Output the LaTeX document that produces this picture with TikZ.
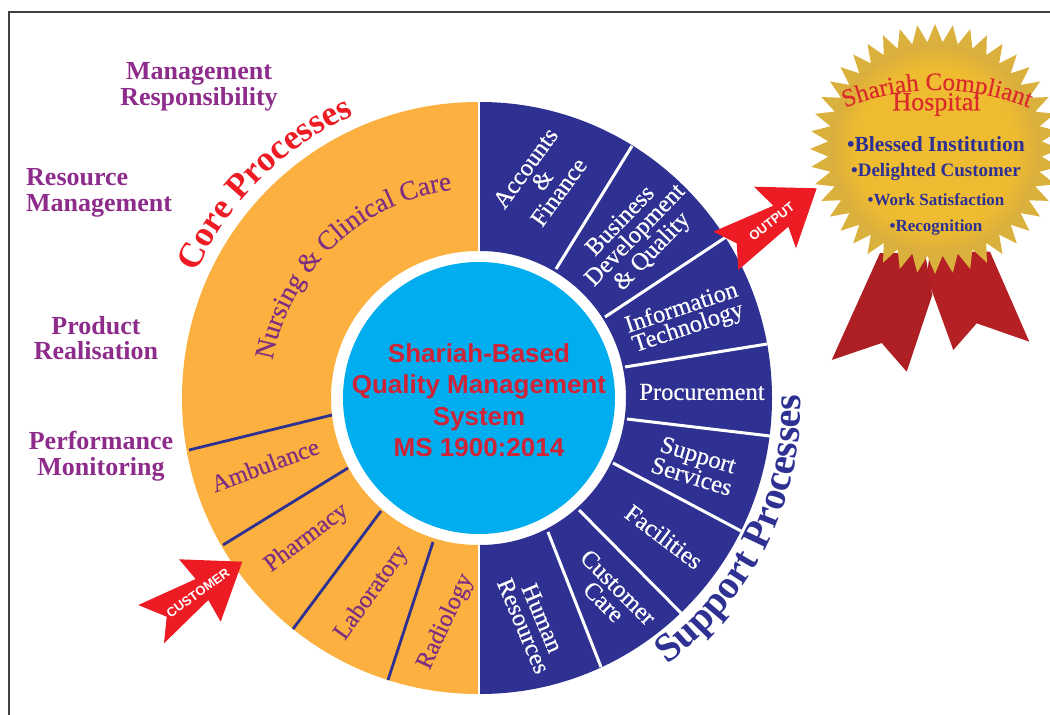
\documentclass[tikz,border=0pt]{standalone}
\usepackage{fontspec}
\setmainfont{Liberation Serif}
\newfontfamily\medserif[FakeBold=0.35]{Liberation Serif}
\newfontfamily\lsans{Liberation Sans}
\usetikzlibrary{decorations.text}
\definecolor{corange}{HTML}{FBB040}
\definecolor{cnavy}{HTML}{2E3192}
\definecolor{ccyan}{HTML}{00AEEF}
\definecolor{cred}{HTML}{ED1C24}
\definecolor{cpurple}{HTML}{8E2C8C}
\definecolor{cplum}{HTML}{7F2F80}
\definecolor{cribbon}{HTML}{B52025}
\definecolor{ccentre}{HTML}{CF2437}
\definecolor{ctitle}{HTML}{DB2A2B}
\definecolor{seala}{HTML}{EFBB30}
\definecolor{sealb}{HTML}{D9AE3E}
\definecolor{sealtip}{HTML}{DBB13D}
\pgfdeclareradialshading{sealshade}{\pgfpoint{0bp}{0bp}}{color(0bp)=(seala); color(19bp)=(seala); color(25bp)=(sealb); color(50bp)=(sealb)}
\newcommand{\corefont}{\fontsize{35.5}{36}\selectfont\bfseries\color{cred}}
\newcommand{\suppfont}{\fontsize{40}{40}\selectfont\bfseries\color{cnavy}}
\newcommand{\nursefont}{\fontsize{27}{27}\medserif\color{cplum}}
\newcommand{\sealfont}{\fontsize{25}{25}\medserif\color{ctitle}}
\tikzset{
  x=1pt,y=1pt,
  purple label/.style={text=cpurple,align=center,inner sep=0pt,font=\fontsize{26}{25.5}\selectfont\bfseries},
  navy label/.style={text=white,align=center,inner sep=0pt,font=\fontsize{24.5}{20.5}\medserif},
  plum label/.style={text=cplum,align=center,inner sep=0pt,font=\fontsize{24.5}{20.5}\medserif},
  divwhite/.style={draw=white,line width=3pt},
  divnavy/.style={draw=cnavy,line width=2.8pt},
  arrowred/.style={fill=cred},
  arrow text/.style={text=white,inner sep=0pt,font=\fontsize{13}{14}\lsans\bfseries},
  seal item/.style={text=cnavy,inner sep=0pt,font=\bfseries},
  curved/.style={decorate,decoration={text along path,text align=center,text={#1}}},
}
\begin{document}
\begin{tikzpicture}
\useasboundingbox (0,-715) rectangle (1050,0);
\clip (0,-715) rectangle (1050,0);
\fill[white] (0,-715) rectangle (1050,0);
\draw[draw=black!75,line width=1.3pt] (9,-715) -- (9,-12) -- (1050,-12);

% wheel
\begin{scope}[shift={(479,-398)}]
  \fill[corange] (-1,296) arc[start angle=90,end angle=270,radius=296pt] -- (-1,-147) arc[start angle=270,end angle=90,radius=147pt] -- cycle;
  \fill[cnavy] (1,296) arc[start angle=90,end angle=-90,x radius=292pt,y radius=296pt] -- (1,-147) arc[start angle=-90,end angle=90,x radius=146pt,y radius=147pt] -- cycle;
  \fill[ccyan] (0,0) circle[radius=136pt];
\end{scope}

% dividers
\draw[divwhite] (556,-269) -- (632,-146);
\draw[divwhite] (605,-317) -- (726,-237);
\draw[divwhite] (625,-367) -- (767,-344);
\draw[divwhite] (627,-419) -- (770,-436);
\draw[divwhite] (613,-463) -- (741,-531);
\draw[divwhite] (579,-510) -- (681,-613);
\draw[divwhite] (548,-532) -- (601,-667);
\draw[divnavy] (189,-450) -- (332,-415);
\draw[divnavy] (223,-545) -- (348,-468);
\draw[divnavy] (293,-629) -- (381,-511);
\draw[divnavy] (388,-680) -- (433,-542);

% wheel labels
\node[navy label,rotate=54] (accounts) at (542,-180) {Accounts\\\&\\Finance};
\node[navy label,rotate=46] (business) at (637,-237) {Business\\Development\\\& Quality};
\node[navy label,rotate=18.5] (infotech) at (685,-318.5) {Information\\Technology};
\node[navy label] (procurement) at (702,-392) {Procurement};
\node[navy label,rotate=-17] (support) at (695,-465.5) {Support\\Services};
\node[navy label,rotate=-37] (facilities) at (664,-536.7) {Facilities};
\node[navy label,rotate=-45] (customercare) at (611,-594.5) {Customer\\Care};
\node[navy label,rotate=-67] (hr) at (533,-622) {Human\\Resources};
\node[plum label,rotate=20.5] (ambulance) at (265,-465) {Ambulance};
\node[plum label,rotate=37] (pharmacy) at (306.7,-538.3) {Pharmacy};
\node[plum label,rotate=54.5] (laboratory) at (371.7,-593.3) {Laboratory};
\node[plum label,rotate=65] (radiology) at (445.7,-621.7) {Radiology};

% curved texts round the wheel
\begin{scope}[shift={(479,-398)}]
  \path[curved={|\corefont|Core Processes}] (158:309) arc[start angle=158,end angle=112,radius=309pt];
  \path[curved={|\nursefont|Nursing {\&} Clinical Care}] (171:210) arc[start angle=171,end angle=96,radius=210pt];
\end{scope}
\begin{scope}[shift={(474,-400)}]
  \path[curved={|\suppfont|Support Processes}] (-57:327) arc[start angle=-57,end angle=4,radius=327pt];
\end{scope}

% centre
\node[text=ccentre,align=center,inner sep=0pt,font=\fontsize{26}{31.5}\lsans\bfseries] (qms) at (479,-400) {Shariah-Based\\Quality Management\\System\\MS 1900:2014};

% purple labels
\node[purple label] (mgmt) at (199,-87) {Management\\Responsibility};
\node[purple label,align=left,anchor=west] (res) at (26,-193) {Resource\\Management};
\node[purple label] (prod) at (96,-338) {Product\\Realisation};
\node[purple label] (perf) at (101,-456) {Performance\\Monitoring};

% arrows
\fill[arrowred] (242.3,-561.7) -- (179,-559.3) -- (195.7,-579) -- (138.3,-605) -- (166.7,-616.7) -- (164,-643.3) -- (208.3,-600) -- (220.7,-621.7) -- cycle;
\node[arrow text,rotate=36] (customer) at (198,-593) {CUSTOMER};
\fill[arrowred] (816.7,-188.3) -- (754,-186.7) -- (773.3,-205.7) -- (713.3,-231.7) -- (736.7,-243.3) -- (738.3,-270) -- (788.3,-226.7) -- (796,-248.3) -- cycle;
\node[arrow text,rotate=38] (output) at (771.7,-221.7) {OUTPUT};

% ribbons
\fill[cribbon] (926.7,-276.7) -- (953.3,-350) -- (976.7,-323.3) -- (1029.3,-341.7) -- (990,-251.7) -- (930,-251.7) -- cycle;
\fill[cribbon!96!black] (880,-253) -- (831.7,-360) -- (881.7,-343) -- (906.7,-371.7) -- (932.3,-295) -- (925,-253) -- cycle;

% seal
\begin{scope}[shift={(935,-149)}]
  \fill[sealtip] (0:125) \foreach \i in {1,...,87}{ -- ({\i/88*360}:{ifthenelse(mod(\i,2)==0,125,107)}) } -- cycle;
  \shade[shading=sealshade] (0,0) circle[radius=105pt];
  \path[curved={|\sealfont|Shariah Compliant}] (2,-188) ++(114:247) arc[start angle=114,end angle=66,radius=247pt];
\end{scope}
\node[text=ctitle,inner sep=0pt,font=\fontsize{26}{26}\medserif] (hospital) at (936.5,-104) {Hospital};
\node[seal item,font=\fontsize{21.5}{23}\bfseries\selectfont] (s1) at (936,-144) {•Blessed Institution};
\node[seal item,font=\fontsize{19}{20}\bfseries\selectfont] (s2) at (936,-172) {•Delighted Customer};
\node[seal item,font=\fontsize{17}{17}\bfseries\selectfont] (s3) at (936,-199.5) {•Work Satisfaction};
\node[seal item,font=\fontsize{17}{17}\bfseries\selectfont] (s4) at (936,-227) {•Recognition};

% seam between halves
\draw[white,line width=1.6pt] (479,-102) -- (479,-250);
\draw[white,line width=1.6pt] (479,-546) -- (479,-695);
\end{tikzpicture}
\end{document}
